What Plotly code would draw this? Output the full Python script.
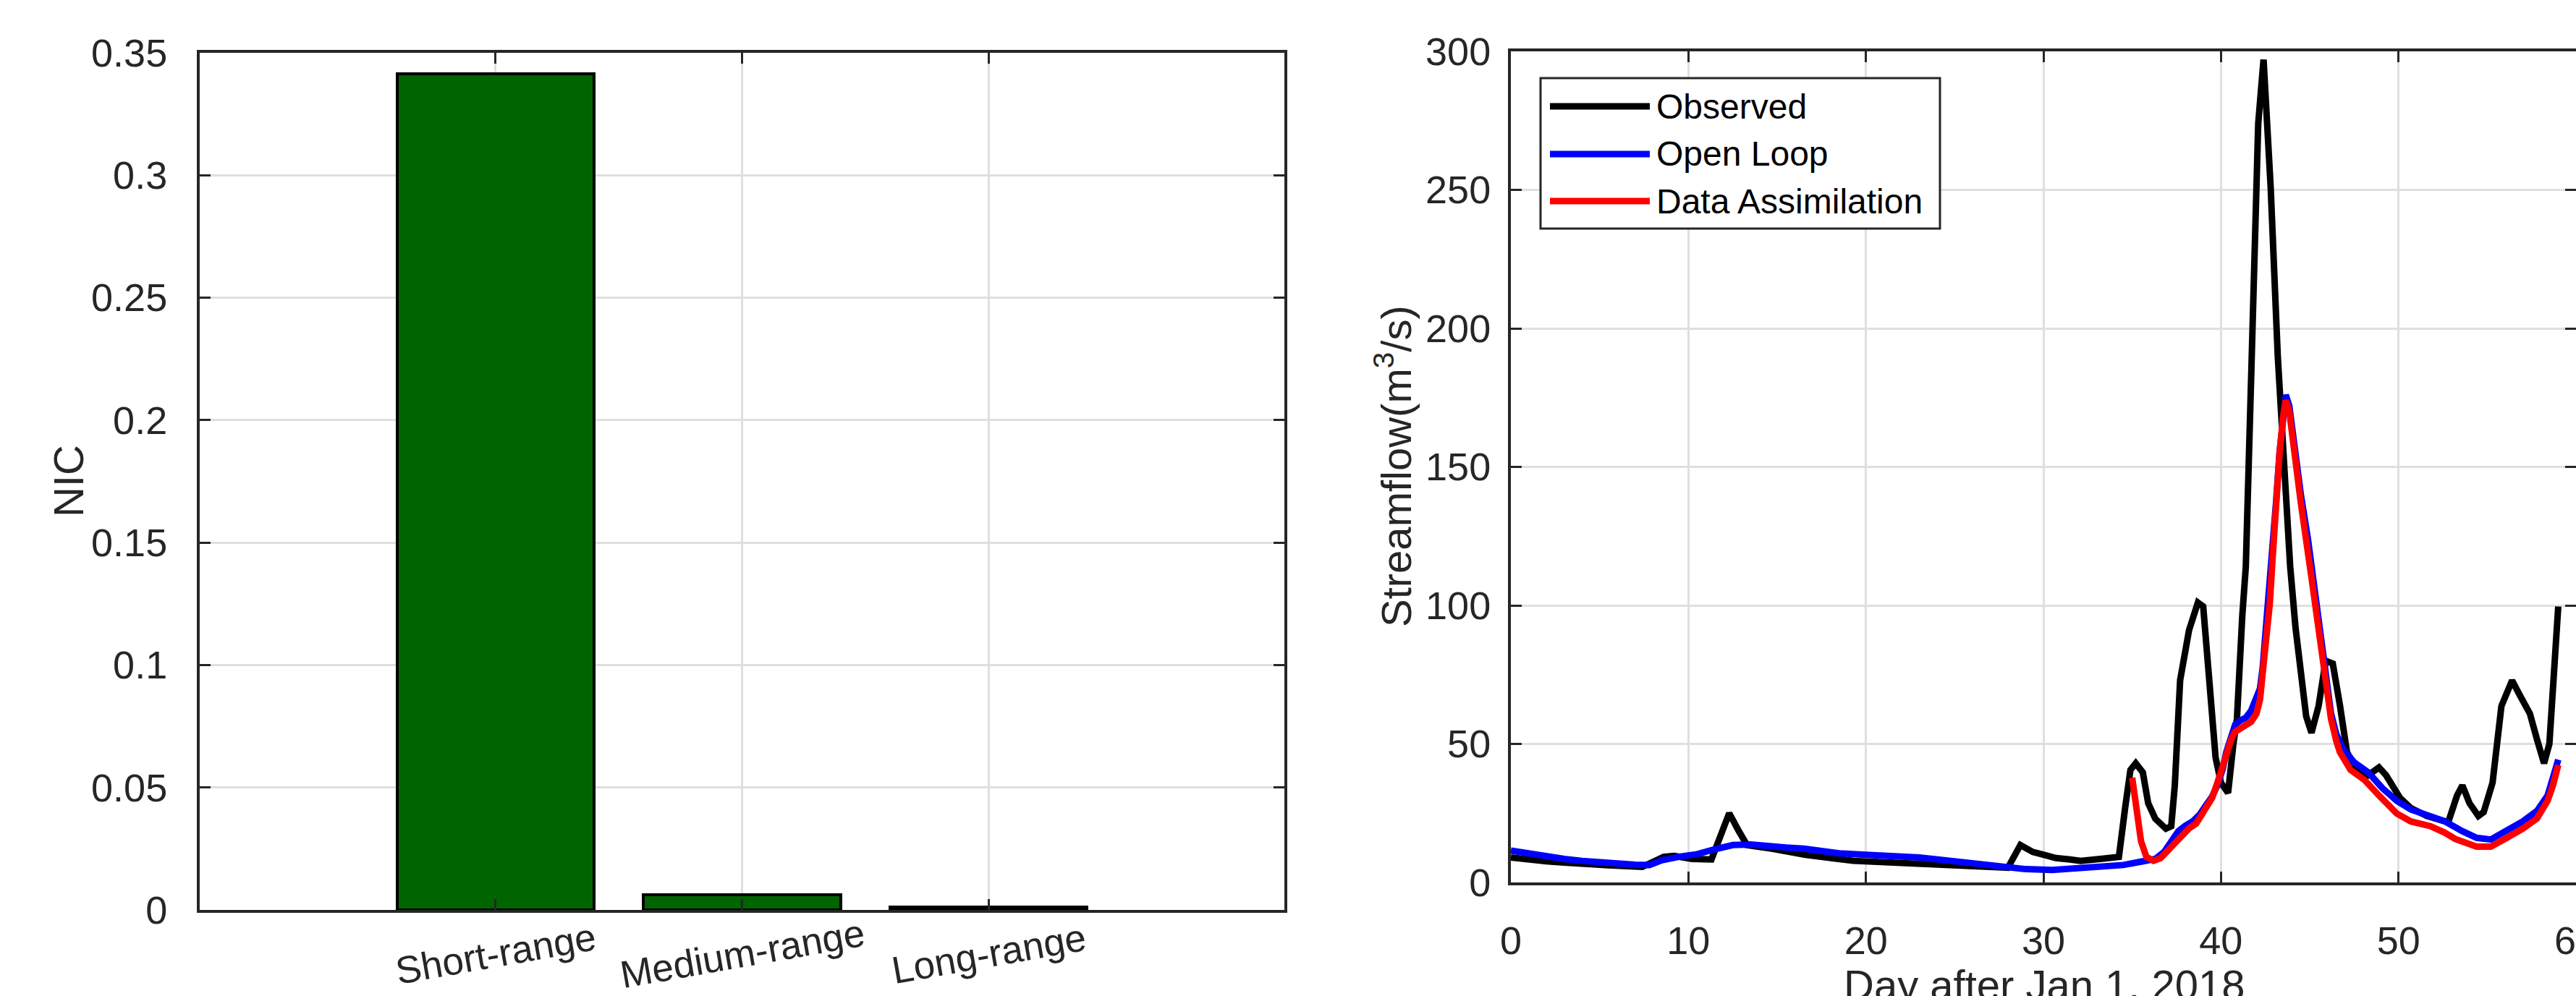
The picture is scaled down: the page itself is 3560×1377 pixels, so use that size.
import plotly.graph_objects as go

W, H = 3560, 1377
FONT = "Liberation Sans, Arial, Helvetica, sans-serif"
AX = "#262626"
GRID = "#dfdfdf"

# ---- Left panel: NIC by forecast range ----
ranges = ["Short-range", "Medium-range", "Long-range"]
range_pos = [1, 2, 3]
nic = [0.3413, 0.0063, 0.0012]
nic_ticks = [0, 0.05, 0.1, 0.15, 0.2, 0.25, 0.3, 0.35]
nic_ticktext = ["0", "0.05", "0.1", "0.15", "0.2", "0.25", "0.3", "0.35"]

# ---- Right panel: streamflow series (day after Jan 1, 2018; m3/s) ----
obs_day = [0, 1, 2, 3, 4.2, 5.5, 7.4, 8.0, 8.6, 9.2, 10.2, 11.3, 11.8, 12.3, 12.8,
           13.3, 14.7, 16.6, 19.3, 22.5, 25.7, 28.0, 28.7, 29.4, 30.0, 30.7, 31.5,
           32.1, 33.2, 34.05, 34.25, 34.6, 34.9, 35.2, 35.6, 35.9, 36.3, 36.9, 37.2,
           37.4, 37.7, 38.2, 38.7, 39.0, 39.3, 39.7, 40.0, 40.4, 40.7, 40.9, 41.2,
           41.4, 41.7, 42.1, 42.4, 42.8, 43.2, 43.6, 43.9, 44.2, 44.5, 44.8, 45.1,
           45.5, 45.9, 46.3, 46.7, 47.1, 47.5, 48.1, 48.9, 49.3, 50.1, 50.7, 51.6,
           52.8, 53.3, 53.6, 54.0, 54.5, 54.8, 55.3, 55.8, 56.4, 56.8, 57.4, 57.8,
           58.2, 58.5, 58.7, 59.0]
obs_q = [9.0, 8.2, 7.6, 7.2, 6.6, 6.2, 5.6, 7.5, 9.2, 9.6, 8.5, 8.3, 16, 25, 19,
         13.5, 12.2, 10, 7.8, 7.0, 6.0, 5.3, 13.5, 11, 10, 8.8, 8.3,
         7.8, 8.5, 9.2, 9.2, 26.8, 40.6, 43, 39.7, 28.6, 23, 19.4, 20.3,
         35, 73, 91, 101, 99.6, 77, 45, 36, 32.3, 50, 59, 96,
         114, 182, 274, 297, 251, 190, 142, 114, 92, 77, 60, 54,
         63.7, 80, 79, 64, 47, 42.4, 37.8, 41.5, 38.7, 30.4, 26.8, 24,
         21.7, 31.4, 35, 28.6, 24, 25.4, 36, 63.7, 72.9, 68, 61, 51.7,
         43, 50, 68, 99.6]

ol_day = [0, 1, 2, 3, 4, 5, 6, 7, 7.8, 8.5, 9.5, 10.5, 11.5, 12.5, 13.5, 14.5,
          15.5, 16.5, 17.5, 18.5, 20, 21.5, 23, 24.5, 26, 27.5, 29, 30.5, 32,
          33.5, 34.5, 35.5, 36.3, 36.8, 37.2, 37.6, 38.0, 38.4, 38.8, 39.2, 39.5,
          39.8, 40.1, 40.3, 40.6, 40.8, 41.1, 41.4, 41.7, 42.0, 42.2, 42.35, 42.55,
          42.75, 42.9, 43.1, 43.3, 43.5, 43.65, 43.85, 44.2, 44.5, 44.9, 45.3,
          45.6, 45.9, 46.2, 46.5, 46.9, 47.5, 48.3, 49.1, 49.9, 50.7, 51.6, 52.6,
          53.6, 54.4, 55.2, 56.0, 57.0, 57.8, 58.4, 58.7, 59.0]
ol_q = [11.5, 10.3, 9.3, 8.5, 7.8, 7.2, 6.7, 6.4, 6.3, 8.0, 9.3, 10.2, 12, 13.5, 13.7, 13,
        12.6, 12.2, 11.3, 10.5, 10, 9.7, 9.0, 8.0, 6.8, 5.6, 4.8, 4.5, 5.0,
        6.0, 6.3, 7.5, 8.5, 11, 14.5, 18.5, 20.5, 22, 24.5, 27.7, 31,
        35, 41, 47, 53, 57, 58.5, 59.5, 62, 66, 70, 77.5, 92,
        105, 120, 137, 155, 170, 176, 172, 152, 140, 124, 105,
        87, 73, 61, 53.5, 48, 43.4, 39.7, 34, 29.5, 26.3, 24.4, 22.1,
        18.5, 16.1, 15.5, 18.5, 22, 25.8, 31.4, 37.8, 44.3]

da_day = [35.0, 35.2, 35.5, 35.8, 36.2, 36.6, 37.2, 37.8, 38.2, 38.6, 39.2, 39.5,
          39.8, 40.1, 40.3, 40.6, 40.8, 41.1, 41.4, 41.7, 42.0, 42.2, 42.35, 42.55,
          42.75, 42.9, 43.05, 43.3, 43.5, 43.65, 43.85, 44.1, 44.5, 45.1, 45.7,
          46.2, 46.5, 46.7, 47.3, 48.1, 48.9, 49.9, 50.7, 51.8, 52.6, 53.2, 54.4,
          55.2, 56.0, 57.0, 57.8, 58.4, 58.7, 59.0]
da_q = [37.8, 26.8, 14.8, 9.2, 7.8, 8.8, 12.9, 17.5, 19.5, 21.2, 26.8, 30.5,
        36, 42, 47, 52, 54.4, 55.5, 56.3, 58, 60.9, 66, 75.6, 88,
        100.5, 116, 133, 155, 168, 174, 170, 157, 137, 110, 82,
        59, 51, 47, 40.6, 36.9, 31.4, 24.9, 22, 20.3, 18, 15.7, 12.9,
        12.9, 15.7, 19.4, 23.1, 29.5, 35, 42.4]

series_names = ["Observed", "Open Loop", "Data Assimilation"]
series_colors = ["#000000", "#0000ff", "#ff0000"]
day_ticks = [0, 10, 20, 30, 40, 50, 60]
flow_ticks = [0, 50, 100, 150, 200, 250, 300]


def px(x):
    return x / W


def py(y):
    return 1 - y / H


fig = go.Figure()

fig.add_trace(go.Bar(
    x=range_pos, y=nic, width=0.8,
    marker=dict(color="#006400", line=dict(color="#000000", width=4)),
    xaxis="x", yaxis="y", showlegend=False,
))

for d, q, name, col in zip([obs_day, ol_day, da_day], [obs_q, ol_q, da_q],
                           series_names, series_colors):
    fig.add_trace(go.Scatter(
        x=d, y=q, mode="lines", name=name,
        line=dict(color=col, width=9),
        xaxis="x2", yaxis="y2", showlegend=False,
    ))

axis_common = dict(
    showline=True, linecolor=AX, linewidth=4, mirror="allticks",
    ticks="inside", ticklen=15, tickwidth=3, tickcolor=AX,
    showgrid=True, gridcolor=GRID, gridwidth=3, zeroline=False,
    tickfont=dict(family=FONT, size=54, color=AX),
    ticklabeloverflow="allow", automargin=False,
)

fig.update_layout(
    width=W, height=H,
    margin=dict(l=0, r=0, t=0, b=0, autoexpand=False),
    paper_bgcolor="white", plot_bgcolor="white",
    font=dict(family=FONT, color=AX),
    bargap=0,
    xaxis=dict(domain=[px(276), px(1775)], range=[-0.2, 4.2], tickvals=range_pos,
               showticklabels=False, anchor="y", **axis_common),
    yaxis=dict(domain=[py(1258), py(73)], range=[0, 0.35], tickvals=nic_ticks,
               ticktext=nic_ticktext, anchor="x", ticklabelstandoff=30, **axis_common),
    xaxis2=dict(domain=[px(2088), 1.0], range=[0, 60], tickvals=day_ticks,
                anchor="y2", ticklabelstandoff=30, **axis_common),
    yaxis2=dict(domain=[py(1220), py(71)], range=[0, 300], tickvals=flow_ticks,
                anchor="x2", ticklabelstandoff=13, **axis_common),
)

annotations = []
# rotated category labels under the bars
for pos, name in zip(range_pos, ranges):
    annotations.append(dict(
        x=pos, y=py(1318), xref="x", yref="paper", text=name, showarrow=False,
        textangle=-10, xanchor="center", yanchor="middle",
        font=dict(family=FONT, size=53, color=AX),
    ))
# axis titles
annotations.append(dict(
    x=px(95), y=py(665), xref="paper", yref="paper", text="NIC", showarrow=False,
    textangle=-90, xanchor="center", yanchor="middle",
    font=dict(family=FONT, size=58, color=AX),
))
annotations.append(dict(
    x=px(1925), y=py(645), xref="paper", yref="paper",
    text="Streamflow(m<sup>3</sup>/s)", showarrow=False,
    textangle=-90, xanchor="center", yanchor="middle",
    font=dict(family=FONT, size=58, color=AX),
))
annotations.append(dict(
    x=px(2825), y=py(1327), xref="paper", yref="paper",
    text="Day after Jan 1, 2018", showarrow=False,
    xanchor="center", yanchor="top",
    font=dict(family=FONT, size=58, color=AX),
))

# legend box drawn with shapes
shapes = [dict(
    type="rect", xref="paper", yref="paper",
    x0=px(2129), x1=px(2681), y0=py(316), y1=py(108),
    fillcolor="white", line=dict(color=AX, width=3), layer="above",
)]
for i, (name, col) in enumerate(zip(series_names, series_colors)):
    yy = [147, 213, 278][i]
    shapes.append(dict(
        type="line", xref="paper", yref="paper",
        x0=px(2142), x1=px(2280), y0=py(yy), y1=py(yy),
        line=dict(color=col, width=9), layer="above",
    ))
    annotations.append(dict(
        x=px(2287), y=py(yy), xref="paper", yref="paper", text=name,
        showarrow=False, xanchor="left", yanchor="middle",
        font=dict(family=FONT, size=48, color="#000000"),
    ))

fig.update_layout(annotations=annotations, shapes=shapes)

fig.write_html("out.html")
